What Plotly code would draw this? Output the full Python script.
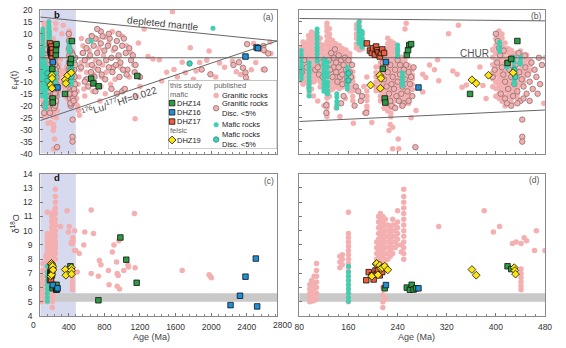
import plotly.graph_objects as go

FONT = "Liberation Sans, Arial, sans-serif"
W, H = 566, 348

# ================= Hf isotope data (panels a, b) =================
# published granitic rocks, vertical groups: one age, several eHf(t)
gran_hf_col_age = [82, 86, 90, 95, 100, 104, 109, 114, 119, 125, 129, 134, 139, 145, 150, 156, 162, 167, 173, 178, 183, 190,
                   205, 212, 218, 224, 229, 234, 240, 246, 252, 258, 264,
                   395, 400, 405, 410, 415, 420, 425, 430, 435, 440, 445, 450, 456]
gran_hf_col_val = [
    [4.1, 2.3, 0.4, -1.7, -3.9, -6.2, -8.1, -9.6],
    [6.6, 4.8, 3.1, 1.2, -0.9, -3.2, -5.1, -7.0, -8.8, -11.0],
    [5.8, 3.6, 1.4, -0.6, -2.7, -4.4, -6.6, -8.3, -10.2],
    [9.2, 7.1, 4.9, 2.8, 1.1, -1.2, -3.0, -5.3, -7.1, -8.9, -11.2, -12.6],
    [10.8, 9.3, 7.7, 5.9, 3.8, 2.1, -0.2, -2.3, -4.1, -6.0, -8.2, -10.1, -13.0],
    [10.2, 8.1, 6.2, 3.9, 1.8, -0.3, -2.2, -4.4, -6.1, -8.3, -10.0],
    [8.8, 6.9, 5.2, 2.9, 0.8, -1.1, -3.2, -4.9, -7.2, -9.1],
    [8.1, 5.8, 4.2, 2.1, -0.2, -1.8, -4.1, -6.2, -7.9, -10.1, -12.2],
    [5.2, 3.1, 0.9, -1.2, -2.8, -5.1, -7.2, -8.8],
    [14.4, 12.8, 11.1, 9.0, 6.8, 5.1, 2.9, 1.2, -1.1, -2.9, -5.2, -6.8, -9.1, -11.2, -12.9, -15.1, -16.8, -19.2, -20.9, -23.1, -24.5],
    [12.1, 9.8, 8.2, 5.9, 4.1, 1.8, 0.2, -2.1, -3.9, -6.2, -7.8, -10.1, -12.2, -13.8, -16.1],
    [7.2, 4.9, 3.1, 0.8, -1.1, -3.2, -4.8, -7.1, -9.2, -10.8, -13.1],
    [5.9, 4.2, 1.8, 0.1, -2.2, -3.9, -6.1, -8.2, -9.8, -12.1],
    [5.1, 2.8, 1.2, -1.1, -2.9, -5.2, -6.8, -9.1, -11.2, -12.9],
    [3.9, 2.2, -0.1, -1.8, -4.2, -5.9, -8.1, -9.8, -12.2],
    [3.2, 0.9, -1.1, -3.2, -4.8, -7.1, -9.2, -10.9],
    [1.8, 0.2, -2.1, -3.9, -6.2, -7.8, -10.1, -12.2, -13.9],
    [-5.8, -8.1, -9.9, -12.2, -13.8, -16.1, -17.9],
    [13.8, 12.1, 9.9, 8.2, 5.8, 4.1],
    [15.1, 12.9, 11.2, 8.8, 7.1, 4.9, 3.2],
    [10.2, 7.9, 6.1, 3.8],
    [-13.9, -16.1, -17.8, -20.2, -21.9],
    [-3.8, -6.2, -7.9, -10.1, -12.2, -13.8],
    [-2.1, -3.9, -6.2, -7.8, -10.1, -12.2, -13.8, -16.1, -17.9],
    [3.1, 0.8, -1.2, -2.9, -5.1, -7.2, -8.8, -11.1, -13.2, -14.8, -17.1, -18.9, -21.1],
    [8.1, 5.9, 4.2, 1.8, 0.1, -2.2, -3.8, -6.1, -8.2, -9.8, -12.1, -14.2, -15.8, -18.1, -19.9, -22.2],
    [6.8, 5.1, 2.9, 1.1, -1.2, -2.8, -5.1, -7.2, -8.9, -11.1, -13.2, -14.8, -17.1, -19.2, -20.8, -23.1, -24.6],
    [6.1, 3.8, 2.1, -0.2, -1.9, -4.1, -6.2, -7.8, -10.1, -12.2, -13.8, -16.1, -17.9, -20.2],
    [2.9, 1.2, -1.1, -2.8, -5.2, -6.9, -9.1, -11.2, -12.8, -15.1, -16.9],
    [0.2, -2.1, -3.8, -6.2, -7.9, -10.1, -12.2, -13.8, -16.1, -17.9, -20.1],
    [-0.9, -3.1, -5.2, -6.8, -9.1, -11.2, -12.8, -15.1, -16.9],
    [-3.2, -4.8, -7.1, -9.2, -10.8, -13.1, -15.2, -16.8, -19.1],
    [-4.9, -7.2, -8.8, -11.1, -13.2],
    [3.1, 0.2, -2.9, -6.1, -8.8, -12.1],
    [7.9, 5.1, 1.8, -1.2, -4.1, -6.9, -10.2, -12.8, -16.1],
    [11.2, 8.9, 7.1, 4.8, 3.1, 0.9, -1.2, -2.8, -5.1, -7.2, -8.9, -11.1, -12.8, -15.2, -16.9],
    [9.9, 8.2, 5.8, 4.1, 1.9, 0.1, -2.2, -3.8, -6.1, -8.2, -9.8, -12.1, -14.2, -15.9, -18.1],
    [6.2, 3.9, 2.1, -0.1, -2.2, -3.9, -6.1, -8.2, -9.9, -12.1, -13.8, -16.2, -17.9, -20.1],
    [3.8, 2.1, -0.2, -1.9, -4.2, -5.8, -8.1, -10.2, -11.9, -14.1, -16.2],
    [3.1, 0.8, -1.1, -3.2, -4.9, -7.1, -9.2, -10.8, -13.1, -14.9, -17.2, -18.9],
    [1.9, 0.1, -2.1, -3.9, -6.2, -7.8, -10.1, -12.2, -13.9],
    [1.2, -1.1, -2.9, -5.2, -6.8, -9.1, -11.2, -12.8, -15.1, -16.9],
    [2.8, 1.1, -1.2, -2.9, -5.1, -7.2, -8.8, -11.1],
    [0.1, -2.2, -3.8, -6.1, -8.2, -9.9],
    [1.2, -0.9, -3.1, -5.2, -6.8],
    [-1.1, -2.9, -5.2],
]
# published granitic rocks, scattered points
gran_hf_age = [146, 168, 186, 228, 232, 226, 241, 232, 242, 254, 252, 281, 286, 281, 305, 307, 323, 330, 337, 345,
               339, 352, 374, 379, 384, 395, 480, 478, 300, 292, 270, 262, 198, 120, 110, 140, 103, 96, 155, 185, 190,
               490, 500, 510, 520, 495, 505, 515, 530, 540, 550, 560, 543, 570, 580, 590, 600, 610, 620, 630, 652,
               660, 670, 680, 690, 700, 726, 740, 750, 760, 770, 799, 780, 790, 810, 820,
               850, 870, 890, 900, 920, 950, 980, 1000, 1020, 1050, 1080, 1100, 1130, 1182, 1247, 1200, 1160, 1145,
               1291, 1346, 1418, 1444, 1500, 1565, 1582, 1620, 1674, 1710, 1765, 1800, 1830, 1870, 1950, 1976, 1991,
               2050, 2093, 2150, 2239, 2282, 2330, 2420, 2450, 2476, 2500, 2550, 2582, 2604, 2659, 2670]
gran_hf_val = [-24.5, -27.3, -23, -27.8, -29, -30.4, -33.9, -38, -38, 14.4, 12, -6.9, -8.2, -14.3, -0.8, -9.6, 10, -5.5, -6.9, -12.3,
               13.6, -11.4, -3.9, -11.6, -17, 3.5, 0, -19, -5, -3, -22, -25, -27, -20, -18, -21, -16, -15, -17, -12, -8,
               -17, -20, -22, -24, -14, -11, -8, -5, -2, 2, 5, 8, -13, -16, -9, -6, -3, 0, 3, 9.3,
               -10, -14, -7, -4, -1, 7.6, 4, -18, -12, -8, 8.6, -3, 1, -15, -6,
               6, -11, 11, 3, -9, 0, -4, 9, -13, 5, -8, 2, -3, 6.2, 12, -12, -16, -25.4,
               0.5, -0.5, -0.8, -9.7, -6, 19.2, -4.9, -8, -1.9, -6.2, 4.2, -9, -5.5, -2, -1, 2.8, -6.9,
               -8, -2.2, -4, -1.5, -5.8, -7, -10, -5, 6, -2, 3.5, -4.9, 2.6, 6.6, 1.8]
# published granitic rocks with discordance < 5%
disc_hf_age = [124, 124, 189, 180, 132, 136, 140, 144, 148, 152, 156, 136, 140, 146, 150, 158, 142, 134, 162, 166, 130,
               138, 154, 160, 164, 128, 144, 150, 106, 112, 118, 110, 116, 88, 92, 84, 172, 176, 170, 182, 152, 148,
               216, 220, 224, 228, 232, 236, 240, 244, 248, 252, 256, 260, 264, 218, 222, 226, 230, 234, 238, 242,
               246, 250, 254, 258, 262, 266, 220, 230, 240, 250, 236, 244, 228, 258, 248, 269,
               400, 403, 405, 407, 402, 398, 395, 410, 412, 415, 418, 420, 422, 425, 428, 430, 432, 435, 438, 440,
               442, 445, 448, 450, 452, 455, 458, 460, 463, 466, 470, 472, 415, 425, 435, 445, 408, 418, 427, 437,
               447, 413, 443, 443, 443, 475, 468, 455,
               560, 580, 600, 620, 640, 660, 680, 700, 720, 740, 760, 780, 800, 820, 840, 860, 880, 900, 920, 940,
               960, 980, 1000, 1020, 1040, 1060, 1080, 1100, 1120, 1140, 650, 690, 730, 770, 810, 850, 890, 930,
               970, 1010, 1050, 600, 620, 700, 760, 720, 660, 880, 940, 1000, 1030, 850, 960, 1150, 1200, 540, 580,
               1893, 1991, 2312, 2356, 2385, 2390, 2403, 2586, 2590, 2640, 2600, 2250]
disc_hf_val = [-19.8, -23, -23, -18, 2, 0, -2, 1, -1, -3, -5, -4, -6, -8, -7, -9, -10, -8, -6, -3, -5,
               3.5, 0, -1, -8, -1, -4, -11, -5, -7, -8, -4, -2, -1, -4, -6, -12, -14, -20, -16, -16, -19,
               -2, -4, -6, -3, -8, -5, -10, -7, -12, -9, -14, -11, -16, -9, -12, -15, -11, -13, -16, -18,
               -15, -19, -3, -6, -8, -4, -17, -20, -1, -5, -21, -3, -18, -18, -20, -37.3,
               10, 7, 4, 1, -2, -5, -8, -4, -7, -10, -2, -13, -5, -8, -16, -11, -3, -14, -6, -18,
               -9, -12, -4, -15, -7, -10, -2, -13, -5, -8, 0, -11, -17, -20, -19, -17, -15, -19, 0, 2,
               1, 3, -25.8, -33, -35, -3, -15, -18,
               2, -1, 4, 7, 1, -3, 5, 8, 2, -2, 6, 9, 3, -1, 5, 8, 0, -4, 4, 7,
               1, -2, 5, 8, 2, -5, 4, -1, 1, -6, -6, -8, -5, -7, -9, -4, -6, -3,
               -8, -5, -7, -9, -12, -14, 11, 12, 9, -13, -15, -14, -13, 10, 10, -3, -8, -4, -10,
               -4.9, -6.9, -1.9, -4.2, -6.2, -8.2, 5.7, 4.9, 3.2, 1.8, -4.9, -3]
# published mafic rocks
maf_hf_col_age = [83, 96, 109, 120, 126, 141, 158, 177, 182, 240, 248, 406, 418, 430, 440]
maf_hf_col_val = [
    [3.0, 1.4, 0.1, -1.6, -3.1, -4.4, -6.0, -7.6, -8.9],
    [-2.1, -3.6, -4.9, -6.4, -8.1, -9.6, -11.0, -12.4, -13.9, -16.0],
    [12.0, 10.4, 9.1, 7.6, 5.9, 4.4, 3.1, 1.6, -0.1, -1.5],
    [-0.5, -2.1, -3.4, -5.1, -6.6, -7.9, -9.4, -11.1, -12.6, -14.0],
    [-1.9, -3.9, -6.1, -7.9, -10.2, -11.9, -13.8, -15.1],
    [-15.0, -16.4, -18.1, -19.6, -21.0],
    [-4.1, -5.6, -6.9, -8.4, -10.1, -11.6, -13.0],
    [14.9, 13.4, 12.1, 10.6, 8.9, 7.4, 6.1],
    [11.1, 9.6, 7.9, 6.4, 5.1, 4.4],
    [5.3, 3.9, 2.6, 1.2, 0.5],
    [-6.2, -7.6, -9.1, -10.4, -11.6],
    [6.6, 5.1, 3.6, 2.6],
    [-4.0],
    [0.1, -1.9, -4.1, -5.9, -8.1, -9.9, -11.1],
    [0.2, -1.3, -2.6],
]
maf_hf_age = [652, 2020]
maf_hf_val = [7.0, 12.3]
mafdisc_hf_age = [1757, 160, 160, 430, 432]
mafdisc_hf_val = [-2.4, -6.5, -9.5, -5.0, -8.0]

# this study
dhz14_hf_age = [216, 219, 220, 255, 257, 259, 262, 358, 419, 425, 435, 652, 678, 736, 1170]
dhz14_hf_val = [-4.6, -17.0, -18.7, 1.2, 3.2, 5.3, 5.7, -15.1, -2.2, -0.5, 7.0, -8.7, -10.7, -11.9, -7.6]
dhz16_hf_age = [221, 274, 2385, 2510, 2525]
dhz16_hf_val = [-1.8, -12.4, 0.5, 4.3, 4.0]
dhz17_hf_age = [190, 195, 198, 200, 203, 205, 207, 209, 211, 213, 215, 218]
dhz17_hf_val = [6.0, 3.0, 2.0, 4.0, 1.3, 4.7, 3.2, 2.3, 0.5, 2.0, 3.5, 2.0]
dhz19_hf_age = [196, 211, 212, 213, 361, 368, 388, 428]
dhz19_hf_val = [-11.4, -7.3, -12.7, -8.6, -9.2, -10.7, -7.3, -6.2]

# reference lines
dm_a_age, dm_a_val = [80, 2740], [17.0, 7.0]
lu_a_age, lu_a_val = [80, 2740], [-26.2, 7.0]
dm_b_age, dm_b_val = [80, 480], [16.4, 15.4]
lu_b_age, lu_b_val = [80, 480], [-26.6, -21.8]
chur_val = 0

# ================= O isotope data (panels c, d) =================
gran_o_col_age = [97, 100, 104, 108, 146, 150, 160, 206, 209, 212, 216, 220, 224, 228, 232, 236, 240, 246, 250, 441]
gran_o_col_val = [
    [5.0, 5.3, 5.6, 5.9, 6.2],
    [5.05, 5.4, 5.8, 6.2, 6.5],
    [5.1, 5.5, 5.9, 6.3, 6.8],
    [5.2, 5.6, 6.0, 6.4, 6.8, 7.2, 7.7],
    [7.4, 7.8, 8.2],
    [7.6, 8.0, 8.3],
    [5.0, 5.3, 5.6, 5.9, 6.2, 6.5, 6.8, 7.1, 7.4, 7.7, 8.0, 8.3, 8.6, 8.9, 9.2, 9.5, 9.8, 11.3],
    [7.2, 7.6, 8.0, 8.4, 8.8, 9.2],
    [7.0, 7.4, 7.8, 8.2, 8.6, 9.0, 9.4, 9.8, 10.2, 10.6, 11.0],
    [7.5, 7.9, 8.3, 8.7, 9.1, 9.5, 9.9, 10.3, 10.7, 11.2],
    [4.6, 5.0, 5.5, 6.0, 7.8, 8.2, 8.6, 9.0, 9.4, 9.8, 10.2, 10.6, 11.0],
    [5.2, 7.6, 8.0, 8.4, 8.8, 9.2, 9.6, 10.0, 10.4, 10.8],
    [8.0, 8.4, 8.8, 9.2, 9.6, 10.0, 10.4],
    [8.2, 8.6, 9.0, 9.4, 9.8, 10.2],
    [8.4, 8.8, 9.2, 9.6, 10.0, 10.4, 10.8],
    [8.8, 9.2, 9.6, 10.0, 10.4],
    [9.0, 9.4, 9.8, 10.2, 10.6, 11.4],
    [8.5, 9.0],
    [8.0, 8.4, 8.8, 9.2, 9.6, 10.0, 10.4, 10.8, 11.2, 11.6, 12.0, 12.4, 12.9],
    [5.85, 6.1, 6.4, 6.7, 7.0, 7.3],
]
gran_o_age = [307, 381, 396, 406, 427, 433, 441, 446, 450, 463, 466, 480, 569, 580, 652, 678, 518, 496, 652, 744,
              762, 733, 846, 853, 890, 908, 937, 944, 955, 944, 970, 963, 1018, 1065, 1070, 1138, 1145, 1674, 1976, 1990,
              2002]
gran_o_val = [10.3, 11.4, 9.9, 10.3, 9.1, 9.2, 9.1, 9.5, 9.3, 8.6, 10.0, 8.6, 9.0, 9.9, 11.45, 9.8, 8.4, 7.1, 7.0, 7.9,
              7.6, 6.8, 7.2, 6.2, 8.5, 9.0, 7.8, 7.0, 6.85, 6.1, 5.9, 9.3, 7.2, 7.6, 7.45, 11.2, 7.4, 7.2, 6.9, 6.8,
              6.7]
maf_o_col_age = [160]
maf_o_col_val = [[5.05, 5.3, 5.6, 5.9, 6.2, 6.5, 6.8, 7.1, 7.5]]

dhz14_o_age = [219, 255, 260, 263, 266, 270, 419, 425, 733, 980, 1046, 1163]
dhz14_o_val = [5.95, 6.0, 5.85, 6.2, 5.86, 5.95, 7.5, 7.3, 5.11, 9.52, 7.96, 6.34]
dhz16_o_age = [221, 274, 2217, 2323, 2385, 2501, 2516]
dhz16_o_val = [6.18, 5.95, 4.77, 5.43, 6.77, 8.04, 4.68]
dhz17_o_age = [189, 193, 198, 201, 204, 206, 208, 211, 215]
dhz17_o_val = [6.52, 7.09, 6.86, 6.57, 7.2, 6.93, 7.27, 6.86, 7.1]
dhz19_o_age = [198, 205, 206, 208, 211, 213, 215, 219, 224, 361, 368, 430, 431, 432]
dhz19_o_val = [6.8, 7.66, 7.7, 6.9, 7.57, 7.34, 7.4, 7.5, 7.25, 7.27, 6.87, 7.4, 7.2, 6.95]

mantle_o = [5.0, 5.6]          # mantle zircon band
zoom_range = [80, 480]          # age window of panels b and d
full_range = [80, 2740]

hf_ticks = list(range(-40, 21, 5))
o_ticks = list(range(4, 15))
age_ticks_full = [400, 800, 1200, 1600, 2000, 2400]
age_ticks_zoom = [80, 160, 240, 320, 400, 480]

# ================= styles =================
PINK = '#f4b0b0'
DISC_LINE = '#8c7070'
TURQ = '#3fcfb3'
GREEN = '#2e9a44'
BLUE = '#1e8fd8'
RED = '#ef5e3e'
YELLOW = '#fde60f'
SHADE = '#d7daee'
BAND = '#c9c9c9'
LINE = '#666666'

M_GRAN = dict(color=PINK, size=5.5, line=dict(width=0))
M_DISC = dict(color=PINK, size=5.5, line=dict(color=DISC_LINE, width=0.8))
M_MAF = dict(color=TURQ, size=5, line=dict(width=0))
M_MAFD = dict(color=TURQ, size=5.5, line=dict(color='#2d8c7c', width=0.8))
M_14 = dict(color=GREEN, size=5.5, symbol='square', line=dict(color='#111', width=0.8))
M_16 = dict(color=BLUE, size=5.5, symbol='square', line=dict(color='#111', width=0.8))
M_17 = dict(color=RED, size=5.5, symbol='square', line=dict(color='#111', width=0.8))
M_19 = dict(color=YELLOW, size=6, symbol='diamond', line=dict(color='#111', width=0.8))


def expand(col_age, col_val):
    xs, ys = [], []
    for a, vs in zip(col_age, col_val):
        for v in vs:
            xs.append(a)
            ys.append(v)
    return xs, ys


fig = go.Figure()


def pts(x, y, xa, ya, marker):
    fig.add_trace(go.Scatter(x=x, y=y, mode='markers', marker=marker, xaxis=xa, yaxis=ya,
                             showlegend=False, hoverinfo='skip'))


def line(x, y, xa, ya):
    fig.add_trace(go.Scatter(x=x, y=y, mode='lines', line=dict(color=LINE, width=1), xaxis=xa, yaxis=ya,
                             showlegend=False, hoverinfo='skip'))


gcx, gcy = expand(gran_hf_col_age, gran_hf_col_val)
mcx, mcy = expand(maf_hf_col_age, maf_hf_col_val)
ogx, ogy = expand(gran_o_col_age, gran_o_col_val)
omx, omy = expand(maf_o_col_age, maf_o_col_val)

for xa, ya, xr in [('x', 'y', full_range), ('x2', 'y2', zoom_range)]:
    pts(gcx + gran_hf_age, gcy + gran_hf_val, xa, ya, M_GRAN)
    pts(disc_hf_age, disc_hf_val, xa, ya, M_DISC)
    pts(mcx + maf_hf_age, mcy + maf_hf_val, xa, ya, M_MAF)
    pts(mafdisc_hf_age, mafdisc_hf_val, xa, ya, M_MAFD)
    line(xr, [chur_val, chur_val], xa, ya)
    if xa == 'x':
        line(dm_a_age, dm_a_val, xa, ya)
        line(lu_a_age, lu_a_val, xa, ya)
    else:
        line(dm_b_age, dm_b_val, xa, ya)
        line(lu_b_age, lu_b_val, xa, ya)
    pts(dhz17_hf_age, dhz17_hf_val, xa, ya, M_17)
    pts(dhz14_hf_age, dhz14_hf_val, xa, ya, M_14)
    pts(dhz16_hf_age, dhz16_hf_val, xa, ya, M_16)
    pts(dhz19_hf_age, dhz19_hf_val, xa, ya, M_19)

for xa, ya in [('x3', 'y3'), ('x4', 'y4')]:
    pts(ogx + gran_o_age, ogy + gran_o_val, xa, ya, M_GRAN)
    pts(omx, omy, xa, ya, M_MAF)
    pts(dhz17_o_age, dhz17_o_val, xa, ya, M_17)
    pts(dhz14_o_age, dhz14_o_val, xa, ya, M_14)
    pts(dhz16_o_age, dhz16_o_val, xa, ya, M_16)
    pts(dhz19_o_age, dhz19_o_val, xa, ya, M_19)

# ---- legend (drawn in its own small axis box; positions in box fractions) ----
LBX0, LBX1, LBY0, LBY1 = 166.7, 278.0, 77.3, 148.3   # legend box in pixels


def lx(px):
    return (px - LBX0) / (LBX1 - LBX0)


def ly(py):
    return (LBY1 - py) / (LBY1 - LBY0)


leg_marks = [(170.7, 101.0, M_14), (170.7, 110.5, M_16), (170.7, 120.0, M_17), (170.7, 139.0, M_19),
             (215.7, 93.3, M_GRAN), (215.7, 106.3, M_DISC), (215.7, 123.3, M_MAF), (215.7, 138.5, M_MAFD)]
for px, py, mk in leg_marks:
    pts([lx(px)], [ly(py)], 'x5', 'y5', mk)

leg_text = [("this study", 168, 83.0, '#666'), ("published", 212.5, 83.0, '#666'),
            ("mafic", 168, 92.2, '#666'), ("DHZ14", 175, 101.0, '#222'),
            ("DHZ16", 175, 110.5, '#222'), ("DHZ17", 175, 120.0, '#222'),
            ("felsic", 168, 129.6, '#666'), ("DHZ19", 175, 139.0, '#222'),
            ("Granitic rocks", 221, 93.3, '#222'), ("Granitic rocks<br>Disc. &lt;5%", 221, 106.3, '#222'),
            ("Mafic rocks", 221, 123.3, '#222'), ("Mafic rocks<br>Disc. &lt;5%", 221, 138.5, '#222')]

annotations = []
for t, px, py, c in leg_text:
    annotations.append(dict(text=t, x=lx(px), y=ly(py), xref='x5', yref='y5', xanchor='left', yanchor='middle',
                            align='left', showarrow=False, borderpad=0,
                            font=dict(family=FONT, size=7.5, color=c)))


def ann(text, x, y, xref, yref, size=8.5, color='#333', angle=0, xanchor='center', bold=False):
    if bold:
        text = '<b>' + text + '</b>'
    annotations.append(dict(text=text, x=x, y=y, xref=xref, yref=yref, showarrow=False, textangle=angle,
                            xanchor=xanchor, yanchor='middle', borderpad=0,
                            font=dict(family=FONT, size=size, color=color)))


ann('(a)', 0.964, 0.948, 'x domain', 'y domain', 8.5, '#555')
ann('(b)', 0.966, 0.955, 'x2 domain', 'y2 domain', 8.5, '#555')
ann('(c)', 0.964, 0.95, 'x3 domain', 'y3 domain', 8.5, '#555')
ann('(d)', 0.958, 0.957, 'x4 domain', 'y4 domain', 8.5, '#555')
ann('b', 270, 0.971, 'x', 'y domain', 9.5, '#111', bold=True)
ann('d', 270, 0.973, 'x3', 'y3 domain', 9.5, '#111', bold=True)
ann('depleted mantle', 0.52, 0.903, 'x domain', 'y domain', 10, '#444', angle=5.7)
ann('<sup>176</sup>Lu/<sup>177</sup>Hf=0.022', 0.335, 0.365, 'x domain', 'y domain', 10, '#444', angle=-18)
ann('CHUR', 0.7115, 0.696, 'x2 domain', 'y2 domain', 10, '#555')
ann('ε<sub>Hf</sub>(t)', 10 / W, 1 - 77 / H, 'paper', 'paper', 9, '#333', angle=-90)
ann('δ<sup>18</sup>O', 10 / W, 1 - 225 / H, 'paper', 'paper', 9, '#333', angle=-90)
ann('Age (Ma)', 150 / W, 1 - 341.5 / H, 'paper', 'paper', 9, '#444')
ann('Age (Ma)', 420 / W, 1 - 341.5 / H, 'paper', 'paper', 9, '#444')
ann('0', 28.7 / W, 1 - 329.5 / H, 'paper', 'paper', 8.5, '#333')
ann('2800', 283.5 / W, 1 - 329.5 / H, 'paper', 'paper', 8.5, '#333')

shapes = [
    dict(type='rect', xref='x', yref='y domain', x0=zoom_range[0], x1=zoom_range[1], y0=0, y1=1,
         fillcolor=SHADE, line=dict(width=0), layer='below'),
    dict(type='rect', xref='x3', yref='y3 domain', x0=zoom_range[0], x1=zoom_range[1], y0=0, y1=1,
         fillcolor=SHADE, line=dict(width=0), layer='below'),
    dict(type='rect', xref='x3 domain', yref='y3', x0=0, x1=1, y0=mantle_o[0], y1=mantle_o[1],
         fillcolor=BAND, line=dict(width=0), layer='below'),
    dict(type='rect', xref='x4 domain', yref='y4', x0=0, x1=1, y0=mantle_o[0], y1=mantle_o[1],
         fillcolor=BAND, line=dict(width=0), layer='below'),
    dict(type='rect', xref='x5', yref='y5', x0=0, x1=1, y0=0, y1=1,
         fillcolor='white', line=dict(color='#999', width=1), layer='below'),
]

XA = [36 / W, 278 / W]
XB = [300.7 / W, 551.7 / W]
YT = [1 - 153 / H, 1 - 5 / H]
YB = [1 - 320.3 / H, 1 - 173.7 / H]


def axis(**kw):
    d = dict(showline=True, linecolor='#8a8a8a', linewidth=1, mirror=True, ticks='inside', ticklen=3,
             tickwidth=1, tickcolor='#777', showgrid=False, zeroline=False,
             tickfont=dict(family=FONT, size=8.5, color='#333'))
    d.update(kw)
    return d


def minor(dt, t0):
    return dict(ticks='inside', ticklen=2, tickcolor='#888', dtick=dt, tick0=t0, showgrid=False)


fig.update_layout(
    width=W, height=H, margin=dict(l=0, r=0, t=0, b=0),
    paper_bgcolor='white', plot_bgcolor='white', showlegend=False,
    font=dict(family=FONT),
    xaxis=axis(domain=XA, range=full_range, anchor='y', tickvals=age_ticks_full, showticklabels=False,
               minor=minor(80, 0)),
    yaxis=axis(domain=YT, range=[-40, 20], anchor='x', tickvals=hf_ticks,
               ticktext=[str(v) for v in hf_ticks], ticklabelstandoff=5),
    xaxis2=axis(domain=XB, range=zoom_range, anchor='y2', tickvals=age_ticks_zoom, showticklabels=False,
                minor=minor(16, 80)),
    yaxis2=axis(domain=YT, range=[-40, 20], anchor='x2', tickvals=hf_ticks, showticklabels=False),
    xaxis3=axis(domain=XA, range=full_range, anchor='y3', tickvals=age_ticks_full,
                ticktext=[str(v) for v in age_ticks_full], minor=minor(80, 0), ticklabelstandoff=3),
    yaxis3=axis(domain=YB, range=[4, 14], anchor='x3', tickvals=o_ticks,
                ticktext=[str(v) for v in o_ticks], ticklabelstandoff=5),
    xaxis4=axis(domain=XB, range=zoom_range, anchor='y4', tickvals=age_ticks_zoom,
                ticktext=[str(v) for v in age_ticks_zoom], minor=minor(16, 80), ticklabelstandoff=3),
    yaxis4=axis(domain=YB, range=[4, 14], anchor='x4', tickvals=o_ticks, showticklabels=False),
    xaxis5=dict(domain=[LBX0 / W, LBX1 / W], range=[0, 1], anchor='y5', visible=False, fixedrange=True),
    yaxis5=dict(domain=[1 - LBY1 / H, 1 - LBY0 / H], range=[0, 1], anchor='x5', visible=False, fixedrange=True),
    annotations=annotations,
    shapes=shapes,
)

fig.write_html("out.html")
